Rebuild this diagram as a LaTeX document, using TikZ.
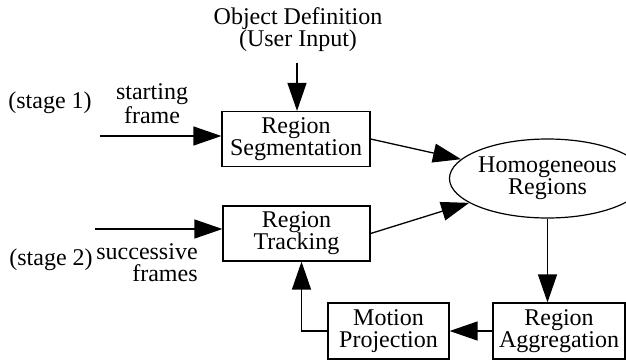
\documentclass[tikz,border=0pt]{standalone}
\usepackage{fontspec}
\setmainfont{Liberation Serif}
\usetikzlibrary{shapes.geometric, arrows.meta}

\begin{document}
\begin{tikzpicture}[x=0.5pt, y=-0.5pt, font=\fontsize{12}{11}\selectfont]
    \tikzstyle{block} = [rectangle, draw=black, line width=0.6pt, inner sep=0pt, minimum height=27.5pt, align=center]
    \tikzstyle{blob} = [ellipse, draw=black, line width=0.6pt, inner sep=0pt, minimum width=77.5pt, minimum height=39.5pt, align=center]
    \tikzstyle{note} = [inner sep=0pt, align=center]
    \tikzstyle{arrow} = [line width=0.65pt, -{Triangle[length=14pt, width=9.5pt]}]

    \useasboundingbox (0,0) rectangle (626,360);

    \node (objdef) [note] at (298,30) {Object Definition\\(User Input)};
    \node (seg) [block, minimum width=74pt] at (296,139) {Region\\Segmentation};
    \node (track) [block, minimum width=73.5pt] at (296.5,233.5) {Region\\Tracking};
    \node (homog) [blob] at (547.5,178.5) {Homogeneous\\Regions};
    \node (agg) [block, minimum width=66pt, minimum height=28pt] at (559,331) {Region\\Aggregation};
    \node (motion) [block, minimum width=60.5pt, minimum height=28pt] at (388.5,331) {Motion\\Projection};

    \node (stage1) [note] at (50,103) {(stage 1)};
    \node (startfr) [note] at (152,104) {starting\\frame};
    \node (stage2) [note] at (51,260) {(stage 2)};
    \node (succfr) [note, align=right] at (147,263) {successive\\frames};

    \coordinate (in1) at (100,136);
    \coordinate (in2) at (95,229);
    \coordinate (userin) at (297,63);

    \draw [arrow] (userin) -- (seg.north -| userin);
    \draw [arrow] (in1) -- (in1 -| seg.west);
    \draw [arrow] (in2) -- (in2 -| track.west);
    \draw [arrow] (seg.east) -- (homog);
    \draw [arrow] (track.east) -- (homog);
    \draw [arrow] (homog.south) -- (homog.south |- agg.north);
    \draw [arrow] (agg.west) -- (motion.east);
    \draw [arrow] (motion.west) -| ([xshift=2.5pt]track.south);
\end{tikzpicture}
\end{document}
